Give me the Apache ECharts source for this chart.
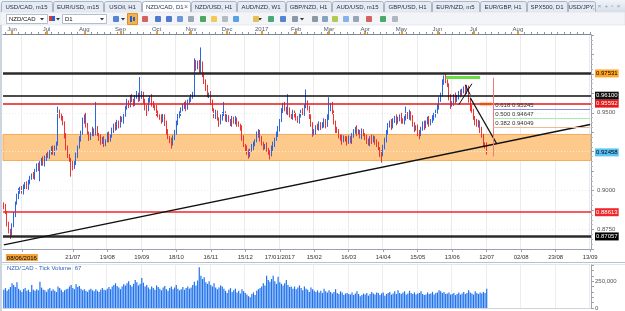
<!DOCTYPE html>
<html>
<head>
<meta charset="utf-8">
<title>NZD/CAD, D1</title>
<style>
  body { margin: 0; background: #fff; }
  #chart { width: 625px; height: 311px; }
</style>
</head>
<body>
<div id="chart"></div>
<script src="https://cdn.jsdelivr.net/npm/echarts@6/dist/echarts.min.js"></script>
<script>
// ---- data (prices in 1/10000) ----
var firstOpen = 8910;
var closes = [
  8895, 8860, 8790, 8740, 8720, 8780, 8850, 8920, 8960, 9000,
  9010, 8990, 9030, 9040, 9020, 9060, 9080, 9100, 9090, 9130,
  9160, 9140, 9180, 9200, 9170, 9210, 9230, 9220, 9250, 9270,
  9240, 9280, 9300, 9500, 9480, 9470, 9430, 9350, 9280, 9220,
  9200, 9170, 9150, 9180, 9230, 9280, 9330, 9370, 9450, 9480,
  9420, 9370, 9340, 9360, 9390, 9370, 9400, 9360, 9340, 9310,
  9330, 9300, 9320, 9360, 9330, 9350, 9390, 9420, 9400, 9440,
  9420, 9460, 9450, 9490, 9530, 9570, 9550, 9600, 9580, 9560,
  9600, 9620, 9590, 9600, 9620, 9580, 9530, 9520, 9580, 9600,
  9560, 9540, 9530, 9500, 9480, 9470, 9450, 9480, 9430, 9380,
  9340, 9320, 9300, 9340, 9380, 9430, 9480, 9500, 9520, 9540,
  9560, 9530, 9570, 9590, 9600, 9620, 9820, 9790, 9820, 9770,
  9800, 9740, 9700, 9660, 9610, 9620, 9570, 9520, 9480, 9500,
  9460, 9440, 9470, 9490, 9500, 9460, 9470, 9450, 9430, 9460,
  9440, 9460, 9430, 9420, 9400, 9340, 9290, 9270, 9250, 9230,
  9260, 9280, 9300, 9320, 9360, 9380, 9330, 9300, 9280, 9290,
  9260, 9250, 9230, 9270, 9300, 9330, 9360, 9400, 9450, 9510,
  9550, 9530, 9500, 9520, 9490, 9470, 9500, 9490, 9460, 9450,
  9480, 9510, 9500, 9540, 9560, 9530, 9480, 9420, 9370, 9380,
  9410, 9400, 9430, 9410, 9420, 9450, 9420, 9470, 9530, 9550,
  9500, 9440, 9390, 9380, 9350, 9340, 9320, 9340, 9330, 9310,
  9340, 9320, 9350, 9380, 9400, 9370, 9380, 9350, 9380, 9360,
  9340, 9320, 9300, 9340, 9320, 9340, 9310, 9300, 9270, 9240,
  9230, 9280, 9330, 9370, 9420, 9440, 9410, 9450, 9470, 9440,
  9460, 9480, 9450, 9440, 9470, 9490, 9470, 9500, 9470, 9420,
  9400, 9410, 9370, 9360, 9400, 9430, 9410, 9440, 9460, 9430,
  9450, 9470, 9480, 9510, 9540, 9580, 9620, 9700, 9730, 9700,
  9680, 9600, 9550, 9560, 9610, 9580, 9600, 9630, 9620, 9640,
  9660, 9630, 9660, 9580, 9530, 9510, 9470, 9440, 9420, 9440,
  9390, 9350, 9300, 9290, 9246
];
// shadow lengths above / below the body
var upWick = [
  15, 20, 10, 10, 15, 10, 15, 10, 20, 15,
  15, 20, 10, 15, 20, 10, 15, 10, 20, 10,
  15, 20, 10, 10, 20, 15, 10, 20, 10, 15,
  20, 10, 15, 40, 20, 15, 10, 15, 20, 10,
  15, 10, 20, 10, 15, 10, 20, 15, 20, 10,
  20, 15, 10, 15, 20, 10, 170, 15, 10, 20,
  15, 20, 10, 15, 20, 10, 15, 10, 20, 15,
  10, 20, 15, 10, 15, 20, 10, 15, 20, 10,
  15, 20, 10, 130, 20, 15, 10, 20, 15, 10,
  20, 15, 10, 20, 15, 10, 20, 15, 10, 20,
  15, 10, 20, 15, 10, 20, 15, 10, 15, 20,
  10, 20, 15, 10, 20, 15, 30, 20, 15, 20,
  120, 30, 20, 15, 20, 10, 20, 15, 10, 20,
  15, 10, 20, 15, 70, 10, 20, 15, 10, 20,
  15, 20, 10, 15, 10, 20, 15, 10, 20, 15,
  10, 20, 15, 10, 20, 15, 10, 20, 15, 10,
  20, 15, 10, 20, 15, 10, 20, 15, 10, 20,
  15, 20, 10, 100, 15, 10, 20, 15, 10, 20,
  15, 10, 20, 15, 90, 20, 15, 10, 20, 15,
  10, 20, 15, 10, 20, 15, 10, 20, 70, 15,
  20, 15, 10, 20, 15, 10, 20, 15, 10, 20,
  15, 10, 20, 15, 10, 20, 15, 10, 20, 15,
  10, 20, 15, 10, 20, 15, 10, 20, 15, 10,
  20, 15, 10, 20, 15, 10, 20, 15, 10, 20,
  15, 10, 20, 15, 10, 50, 15, 20, 10, 15,
  20, 10, 15, 20, 10, 15, 20, 10, 15, 20,
  10, 15, 20, 10, 15, 20, 10, 15, 10, 20,
  15, 10, 20, 15, 10, 20, 15, 10, 20, 15,
  10, 20, 20, 15, 10, 20, 15, 10, 20, 15,
  10, 20, 15, 10, 20
];
var downWick = [
  15, 10, 20, 15, 30, 10, 15, 20, 10, 15,
  20, 10, 15, 20, 10, 15, 20, 10, 15, 20,
  10, 15, 80, 20, 10, 15, 20, 10, 15, 20,
  10, 15, 20, 10, 15, 20, 10, 15, 20, 10,
  15, 80, 20, 10, 15, 20, 10, 15, 10, 20,
  15, 10, 20, 15, 10, 20, 15, 10, 20, 15,
  10, 20, 15, 10, 20, 15, 10, 20, 15, 10,
  20, 15, 10, 20, 15, 10, 20, 15, 10, 20,
  15, 10, 20, 15, 10, 20, 15, 40, 10, 15,
  20, 10, 15, 20, 10, 15, 20, 10, 15, 20,
  10, 15, 30, 10, 15, 20, 10, 15, 20, 10,
  15, 20, 10, 15, 20, 10, 15, 20, 10, 15,
  20, 10, 15, 20, 10, 15, 20, 10, 15, 20,
  10, 30, 15, 20, 10, 15, 20, 10, 15, 20,
  10, 15, 20, 10, 15, 20, 10, 15, 20, 25,
  15, 10, 20, 15, 10, 20, 15, 10, 20, 15,
  10, 20, 30, 10, 15, 20, 10, 15, 20, 10,
  15, 20, 10, 15, 20, 10, 15, 20, 10, 15,
  20, 10, 15, 20, 10, 15, 20, 10, 25, 15,
  20, 10, 15, 20, 10, 15, 20, 10, 15, 20,
  10, 15, 20, 10, 15, 20, 25, 10, 15, 20,
  10, 15, 20, 10, 15, 20, 10, 15, 20, 10,
  15, 20, 10, 15, 20, 10, 15, 20, 10, 25,
  50, 10, 15, 20, 10, 15, 20, 10, 15, 20,
  10, 15, 20, 10, 15, 20, 10, 15, 20, 10,
  25, 15, 20, 30, 10, 15, 20, 10, 15, 20,
  10, 15, 20, 10, 15, 20, 10, 15, 20, 10,
  15, 20, 25, 10, 15, 20, 10, 15, 20, 10,
  15, 20, 10, 15, 20, 10, 15, 20, 10, 15,
  20, 10, 15, 20, 15
];
// tick volume, thousands
var volumes = [
  170, 185, 160, 175, 195, 230, 215, 195, 240, 180,
  165, 150, 175, 185, 160, 170, 150, 215, 170, 160,
  175, 165, 245, 190, 170, 165, 150, 175, 185, 160,
  175, 160, 150, 200, 185, 170, 150, 165, 175, 180,
  200, 215, 185, 175, 220, 195, 205, 180, 165, 175,
  160, 150, 170, 180, 165, 155, 175, 160, 150, 170,
  185, 170, 165, 180, 195, 175, 200, 215, 230, 205,
  190, 175, 200, 220, 210, 230, 250, 215, 200, 225,
  260, 240, 210, 225, 280, 235, 200, 215, 190, 175,
  200, 185, 170, 210, 195, 180, 165, 190, 205, 175,
  160, 185, 200, 175, 190, 215, 180, 165, 175, 195,
  170, 185, 200, 180, 190, 215, 245, 210, 255, 378,
  300, 270, 285, 240, 225, 250, 215, 200, 230, 190,
  175, 190, 210, 200, 180, 160, 140, 170, 185, 150,
  165, 180, 145, 160, 135, 175, 155, 140, 125, 110,
  100, 130, 145, 120, 160, 175, 185, 200, 230, 210,
  300, 260, 245, 270, 300, 250, 225, 290, 240, 225,
  210, 230, 260, 215, 195, 200, 180, 200, 175, 190,
  210, 185, 165, 200, 180, 170, 150, 190, 175, 160,
  150, 165, 145, 160, 140, 180, 155, 145, 165, 150,
  135, 150, 175, 140, 130, 155, 145, 120, 135, 140,
  130, 125, 145, 120, 135, 155, 130, 110, 120, 135,
  125, 140, 115, 130, 150, 135, 125, 145, 140, 120,
  135, 145, 115, 130, 140, 150, 125, 135, 155, 130,
  165, 140, 130, 145, 155, 125, 135, 160, 140, 130,
  145, 125, 135, 140, 155, 130, 120, 125, 145, 130,
  135, 150, 125, 140, 145, 165, 155, 140, 150, 130,
  135, 145, 125, 130, 140, 120, 130, 145, 125, 135,
  150, 130, 140, 165, 145, 135, 125, 155, 140, 130,
  145, 135, 150, 140, 180
];

var slotCount = 358;                 // bars on the time axis, incl. empty future
var monthNames = ['Jun', 'Jul', 'Aug', 'Sep', 'Oct', 'Nov', 'Dec', '2017', 'Feb', 'Mar', 'Apr', 'May', 'Jun', 'Jul', 'Aug'];
var monthStartBars = [5, 26, 49, 71, 93, 114, 136, 157, 178, 198, 220, 242, 264, 286, 313];
var startLabel = '08/06/2016', startLabelBar = 11;
var dateTicks = ['21/07', '19/08', '19/09', '18/10', '16/11', '15/12', '17/01/2017', '15/02',
                 '16/03', '14/04', '15/05', '13/06', '12/07', '02/08', '23/08', '13/09'];
var firstTickBar = 42, tickStep = 21;
var yTickLabels = ['0.8750', '0.9000', '0.9500'];
var gridLevels = [0.875, 0.9, 0.925, 0.95, 0.975];

// drawn levels and tools
var priceLevels = [0.97531, 0.96100, 0.95592, 0.88613, 0.87057];
var lastPrice = 0.92458;
var zone = [0.9194, 0.9361];
var supportLine = [[0, 0.8652], [357, 0.9425]];
var downLine = [[284, 0.9597], [300, 0.9303]];
var smallLines = [[[277, 0.9552], [285, 0.9687]], [[281, 0.9680], [284, 0.9616]]];
var topMarker = [[269, 0.9727], [290, 0.9727]];
var fibStart = 298, fibEnd = 357;
var fibLevels = [['0.618', 0.95245], ['0.500', 0.94647], ['0.382', 0.94049]];
var fibBox = [[290, 0.9567], [297, 0.9546]];
var fibRange = [0.9725, 0.9220];
var volumeTitle = 'NZD/CAD - Tick Volume: 67';
var tabNames = ['USD/CAD, m15', 'EUR/USD, m15', 'USOil, H1', 'NZD/CAD, D1', 'NZD/USD, H1', 'AUD/NZD, W1',
                'GBP/NZD, H1', 'AUD/USD, m15', 'GBP/USD, H1', 'EUR/NZD, m5', 'EUR/GBP, H1', 'SPX500, D1', 'USD/JPY,'];
var activeTab = 3;
var symbolName = 'NZD/CAD', periodName = 'D1';

// ---- build series data ----
var cats = [];
for (var i = 0; i < slotCount; i++) cats.push(String(i));

var candles = closes.map(function (c, i) {
  var o = i === 0 ? firstOpen : closes[i - 1];
  var hi = Math.max(o, c) + upWick[i];
  var lo = Math.min(o, c) - downWick[i];
  return [o / 1e4, c / 1e4, lo / 1e4, hi / 1e4];
});
var vols = volumes.map(function (v) { return v * 1000; });

function isDateTick(idx) {
  return idx === startLabelBar || (idx >= firstTickBar && (idx - firstTickBar) % tickStep === 0);
}

var FONT = 'Liberation Sans, Arial, sans-serif';

// ---- chart window chrome ----
var graphics = [];
graphics.push({ type: 'rect', shape: { x: 0, y: 0, width: 625, height: 12 },
  style: { fill: new echarts.graphic.LinearGradient(0, 0, 0, 1, [{ offset: 0, color: '#f1f4f9' }, { offset: 1, color: '#d7dfea' }]) } });
var tabEdges = [1, 53, 104, 142, 191, 237, 286, 332, 384, 432, 480, 527, 568, 596];
tabNames.forEach(function (t, k) {
  var x0 = tabEdges[k], x1 = tabEdges[k + 1] - 1;
  graphics.push({ type: 'rect', shape: { x: x0 + 0.5, y: 1.5, width: x1 - x0, height: 11, r: [2, 2, 0, 0] },
    style: { fill: k === activeTab ? '#ffffff' : '#e6ebf2', stroke: '#aab6c6', lineWidth: 1 } });
  graphics.push({ type: 'text', style: { text: t, x: k === activeTab ? x0 + 4 : (x0 + x1) / 2, y: 7.5,
    align: k === activeTab ? 'left' : 'center', verticalAlign: 'middle', font: '6px ' + FONT, fill: '#1d2b4c' } });
});
graphics.push({ type: 'text', style: { text: '×', x: 186, y: 7, align: 'center', verticalAlign: 'middle', font: '7px ' + FONT, fill: '#666' } });
graphics.push({ type: 'text', style: { text: '×  +  ▫  ×', x: 609, y: 6.5, align: 'center', verticalAlign: 'middle', font: '6px ' + FONT, fill: '#8a96a8' } });

// toolbar
graphics.push({ type: 'rect', shape: { x: 0, y: 12, width: 625, height: 13 }, style: { fill: '#f2f4f8', stroke: '#d4dae3', lineWidth: 0.5 } });
graphics.push({ type: 'rect', shape: { x: 6.5, y: 14.5, width: 41, height: 9 }, style: { fill: '#fff', stroke: '#b3bfcf' } });
graphics.push({ type: 'text', style: { text: symbolName, x: 9, y: 19.2, verticalAlign: 'middle', font: '6px ' + FONT, fill: '#111' } });
graphics.push({ type: 'rect', shape: { x: 62.5, y: 14.5, width: 44, height: 9 }, style: { fill: '#fff', stroke: '#b3bfcf' } });
graphics.push({ type: 'text', style: { text: periodName, x: 65, y: 19.2, verticalAlign: 'middle', font: '6px ' + FONT, fill: '#111' } });
[42, 58, 102, 123, 260, 302].forEach(function (x) {
  graphics.push({ type: 'polygon', shape: { points: [[x - 2, 18], [x + 2, 18], [x, 20.5]] }, style: { fill: '#333' } });
});
graphics.push({ type: 'rect', shape: { x: 49, y: 16, width: 3, height: 5 }, style: { fill: '#d23b3b' } });
graphics.push({ type: 'rect', shape: { x: 52, y: 16, width: 3, height: 5 }, style: { fill: '#2f5fc4' } });
graphics.push({ type: 'rect', shape: { x: 127.5, y: 13.5, width: 10, height: 11 }, style: { fill: '#f6b24a', stroke: '#de8f1c' } });
graphics.push({ type: 'rect', shape: { x: 130, y: 16, width: 2, height: 6 }, style: { fill: '#2d5fc8' } });
graphics.push({ type: 'rect', shape: { x: 133, y: 17, width: 2, height: 4 }, style: { fill: '#2d5fc8' } });
var icons = [[113, '#3b6fd0'], [142, '#d04848'], [155, '#3563c4'], [166, '#3563c4'], [177, '#5b86d6'], [188, '#8c98a8'],
  [200, '#2f9a45'], [211, '#efc23a'], [222, '#a8b0ba'], [233, '#3b93e0'], [253, '#e3b43a'], [268, '#2f9a62'],
  [280, '#3a72c6'], [292, '#77889a'], [312, '#77889a'], [322, '#7394b6'], [332, '#a6c23a'], [343, '#74a6e6'],
  [353, '#8a96a8'], [366, '#d04848'], [380, '#2f9a55'], [392, '#a3acba']];
icons.forEach(function (ic) {
  graphics.push({ type: 'rect', shape: { x: ic[0], y: 16, width: 6, height: 6, r: 1 }, style: { fill: ic[1], opacity: 0.85 } });
});

// frame bits
graphics.push({ type: 'rect', shape: { x: 0, y: 25, width: 2, height: 286 }, style: { fill: '#ccd4df' } });
graphics.push({ type: 'line', shape: { x1: 2, y1: 262.5, x2: 625, y2: 262.5 }, style: { stroke: '#b7c1ce', lineWidth: 1 } });
graphics.push({ type: 'line', shape: { x1: 2, y1: 264.5, x2: 625, y2: 264.5 }, style: { stroke: '#e2e7ee', lineWidth: 1 } });
graphics.push({ type: 'text', style: { text: volumeTitle, x: 7, y: 268.5, verticalAlign: 'middle', font: '6px ' + FONT, fill: '#2f5eb5' } });

// ---- marks on the price panel ----
var hLineStyles = [
  { line: { color: '#2b2b2b', width: 2.5 }, bg: '#ffa726', fg: '#000' },
  { line: { color: '#111111', width: 1.5 }, bg: '#111111', fg: '#fff' },
  { line: { color: '#e3191b', width: 1.5 }, bg: '#e3191b', fg: '#fff' },
  { line: { color: '#f0262a', width: 1.5 }, bg: '#f0262a', fg: '#fff' },
  { line: { color: '#2b2b2b', width: 2.5 }, bg: '#000000', fg: '#fff' }
];
var priceLabel = function (bg, fg) {
  return { show: true, position: 'end', distance: 4, color: fg, backgroundColor: bg, fontSize: 6,
    fontFamily: FONT, padding: [1, 1, 0, 1], lineHeight: 7 };
};
var markLines = [];
gridLevels.forEach(function (v) {
  markLines.push({ yAxis: v, lineStyle: { color: '#ececec', width: 1, type: [1, 2] }, label: { show: false } });
});
priceLevels.forEach(function (v, k) {
  var s = hLineStyles[k];
  var lab = priceLabel(s.bg, s.fg);
  lab.formatter = v.toFixed(5);
  markLines.push({ yAxis: v, lineStyle: { color: s.line.color, width: s.line.width, type: 'solid' }, label: lab });
});
var lastLab = priceLabel('#59c3f3', '#000');
lastLab.formatter = lastPrice.toFixed(5);
markLines.push({ yAxis: lastPrice, lineStyle: { color: 'rgba(0,0,0,0)', width: 0.1, type: 'solid' }, label: lastLab });

function seg(pts, style) {
  return [{ coord: pts[0], lineStyle: style, label: { show: false } }, { coord: pts[1] }];
}
markLines.push(seg(supportLine, { color: '#111', width: 1.3, type: 'solid' }));
markLines.push(seg(downLine, { color: '#111', width: 1.3, type: 'solid' }));
smallLines.forEach(function (s) { markLines.push(seg(s, { color: '#111', width: 1, type: 'solid' })); });
markLines.push(seg(topMarker, { color: '#6cdc45', width: 3, type: 'solid' }));
markLines.push(seg([[fibStart, fibRange[0]], [fibStart, fibRange[1]]], { color: '#f07a7a', width: 1, type: 'solid' }));
var fibColors = ['#8e8ee8', '#a9eca9', '#f3b892'];
fibLevels.forEach(function (f, k) {
  markLines.push([{ coord: [fibStart, f[1]], lineStyle: { color: fibColors[k], width: 1, type: 'solid' },
    label: { show: true, position: 'insideStartTop', distance: [2, 1], formatter: f[0] + ' ' + f[1].toFixed(5),
      fontSize: 6, fontFamily: FONT, color: '#333' } }, { coord: [fibEnd, f[1]] }]);
});

var option = {
  animation: false,
  backgroundColor: '#ffffff',
  textStyle: { fontFamily: FONT },
  graphic: { elements: graphics },
  grid: [
    { left: 3, top: 35, width: 588, height: 214, outerBoundsMode: 'none', containLabel: false },
    { left: 3, top: 265, width: 588, height: 43, outerBoundsMode: 'none', containLabel: false }
  ],
  xAxis: [
    { type: 'category', gridIndex: 0, data: cats, position: 'bottom',
      axisLine: { lineStyle: { color: '#9aa3ad' } },
      axisTick: { show: true, length: 3, alignWithLabel: true, interval: isDateTick, lineStyle: { color: '#9aa3ad' } },
      axisLabel: { interval: isDateTick, margin: 5, fontSize: 6, color: '#333',
        formatter: function (v, idx) {
          var n = Number(v);
          if (n === startLabelBar) return '{hl|' + startLabel + '}';
          return dateTicks[(n - firstTickBar) / tickStep] || '';
        },
        rich: { hl: { backgroundColor: '#f5a33a', color: '#000', fontSize: 6, padding: [1, 1, 0, 1] } } },
      splitLine: { show: true, interval: isDateTick, lineStyle: { color: '#ebebeb' } } },
    { type: 'category', gridIndex: 0, data: cats, position: 'top', offset: 1,
      axisLine: { lineStyle: { color: '#7d8694' } },
      axisTick: { show: true, length: 2, alignWithLabel: true, lineStyle: { color: '#8d96a4' },
        interval: function (idx) { return idx % 4 === 1; } },
      axisLabel: { show: false }, splitLine: { show: false } },
    { type: 'category', gridIndex: 0, data: cats, position: 'top', offset: 1,
      axisLine: { show: false },
      axisTick: { show: true, length: 3, alignWithLabel: true, lineStyle: { color: '#f29a1c', width: 2 },
        interval: function (idx) { return monthStartBars.indexOf(idx) >= 0; } },
      axisLabel: { interval: function (idx) { return monthStartBars.indexOf(idx) >= 0; }, margin: 2,
        fontSize: 6, color: '#4a5878',
        formatter: function (v) { return monthNames[monthStartBars.indexOf(Number(v))] || ''; } },
      splitLine: { show: false } },
    { type: 'category', gridIndex: 1, data: cats,
      axisLine: { lineStyle: { color: '#d0d4da' } }, axisTick: { show: false }, axisLabel: { show: false },
      splitLine: { show: true, interval: isDateTick, lineStyle: { color: '#ededed' } } }
  ],
  yAxis: [
    { type: 'value', gridIndex: 0, position: 'right', min: 0.8625, max: 1.0, interval: 0.0125,
      axisLine: { show: true, lineStyle: { color: '#9aa3ad' } },
      axisTick: { show: true, length: 3, lineStyle: { color: '#9aa3ad' } },
      minorTick: { show: true, splitNumber: 4, length: 2, lineStyle: { color: '#b5bcc5' } },
      splitLine: { show: false },
      axisLabel: { margin: 6, fontSize: 6, color: '#555',
        formatter: function (v) { var s = v.toFixed(4); return yTickLabels.indexOf(s) >= 0 ? s : ''; } } },
    { type: 'value', gridIndex: 1, position: 'right', min: 0, max: 400000, interval: 50000,
      axisLine: { show: true, lineStyle: { color: '#9aa3ad' } },
      axisTick: { show: true, length: 3, lineStyle: { color: '#9aa3ad' } },
      splitLine: { show: false },
      axisLabel: { margin: 4, fontSize: 6, color: '#555',
        formatter: function (v) { return v === 250000 ? '250,000' : (v === 0 ? '0' : ''); } } }
  ],
  series: [
    // support / resistance zone, kept under the candles
    { type: 'line', name: 'zone', xAxisIndex: 0, yAxisIndex: 0, data: [], z: 0, silent: true,
      markArea: { silent: true, z: 0,
        data: [
          [{ yAxis: zone[1], itemStyle: { color: '#fdca8c', borderColor: '#f2aa58', borderWidth: 1 } }, { yAxis: zone[0] }],
          [{ coord: fibBox[0], itemStyle: { color: '#f7d58e', borderColor: '#edc070', borderWidth: 0.5 } }, { coord: fibBox[1] }]
        ] } },
    { type: 'candlestick', name: 'NZD/CAD', xAxisIndex: 0, yAxisIndex: 0, data: candles, z: 4,
      barWidth: 1.2,
      itemStyle: { color: '#1445d4', color0: '#df0a0a', borderColor: '#2d66e2', borderColor0: '#ec3434', borderWidth: 1 },
      markLine: { silent: true, symbol: ['none', 'none'], precision: 5, z: 6, data: markLines }
    },
    { type: 'bar', name: 'Tick Volume', xAxisIndex: 3, yAxisIndex: 1, data: vols,
      barWidth: 1.2, itemStyle: { color: '#1f72ee' } }
  ]
};

var chart = echarts.init(document.getElementById('chart'));
chart.setOption(option);
</script>
</body>
</html>
